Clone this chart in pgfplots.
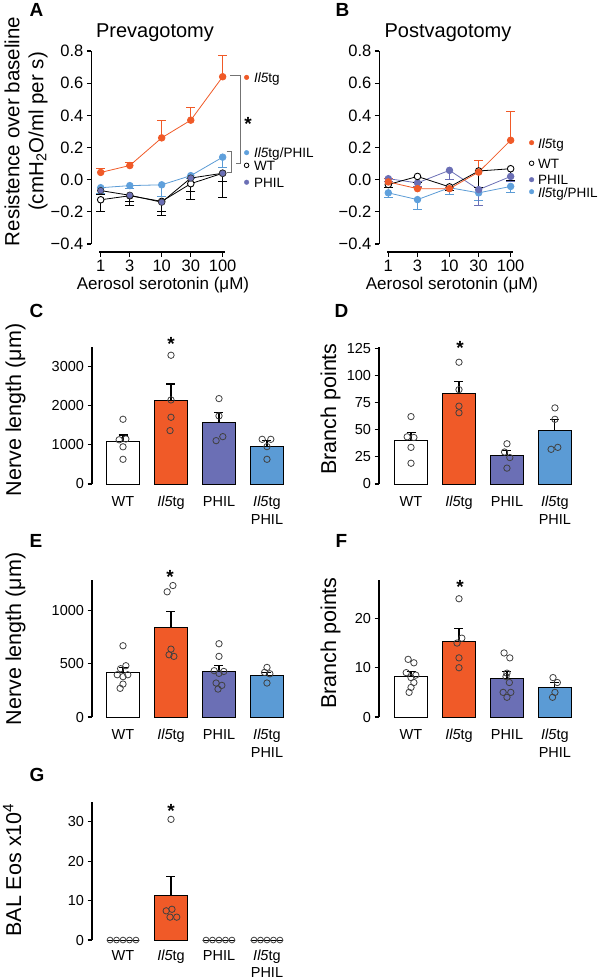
\documentclass[border=0pt]{standalone}
\usepackage{pgfplots}
\pgfplotsset{compat=1.18}
\usepackage{fontspec}
\setmainfont{Liberation Sans}
\definecolor{cOr}{HTML}{F05A28}
\definecolor{cPu}{HTML}{6B6FB5}
\definecolor{cBl}{HTML}{5B9BD5}
\definecolor{cBlD}{HTML}{5FA0DC}
\newcommand\fTick{\fontsize{14.5}{17.5}\selectfont}
\newcommand\fTickG{\fontsize{14.5}{16.5}\selectfont}
\newcommand\fTickA{\fontsize{16.5}{19}\selectfont}
\newcommand\fLeg{\fontsize{13.5}{16}\selectfont}
\newcommand\fLab{\fontsize{21.5}{24}\selectfont}
\newcommand\fLabA{\fontsize{20.5}{24}\selectfont}
\newcommand\fTitle{\fontsize{20}{24}\selectfont}
\newcommand\fLet{\fontsize{19}{22}\selectfont\bfseries}
\newcommand\fX{\fontsize{17}{20}\selectfont}
\newcommand\fStar{\fontsize{19}{22}\selectfont\bfseries}
\pgfplotsset{
 prism/.style={scale only axis, clip=false, axis y line*=left, axis x line*=bottom,
   tick align=outside, major tick length=4.5pt,
   every tick/.style={black, line width=1.1pt},
   axis line style={line width=1.2pt, -}},
 lineA/.style={prism, ymin=-0.4, ymax=0.8,
   xtick={1,3,10,30,100}, xticklabels={1,3,10,30,100}, xminorticks=false,
   ytick={-0.4,-0.2,0,0.2,0.4,0.6,0.8},
   yticklabels={−0.4,−0.2,0.0,0.2,0.4,0.6,0.8},
   tick label style={font=\fTickA}, axis x line shift=8pt, axis y line shift=8pt},
 barpanel/.style={prism, x axis line style={draw=none}, xtick style={draw=none},
   xtick={0,1,2,3}, xticklabels={WT,\textit{Il5}tg,PHIL,{\textit{Il5}tg\\PHIL}},
   xticklabel style={align=center, yshift=-4pt}, xmin=-0.646, xmax=3.48, ymin=0,
   tick label style={font=\fTick}, width=198pt, height=137pt},
 lp/.style={line width=0.8pt, mark=*, mark size=3.3pt},
 errM/.style={error bars/y dir=minus, error bars/y explicit,
   error bars/error bar style={line width=1pt, #1},
   error bars/error mark options={rotate=90, line width=1pt, mark size=4.5pt, #1}},
 errP/.style={error bars/y dir=plus, error bars/y explicit,
   error bars/error bar style={line width=1pt, #1},
   error bars/error mark options={rotate=90, line width=1pt, mark size=4.5pt, #1}},
 bar/.style={ybar, bar width=32.5pt, bar shift=0pt, draw=black, line width=0.9pt},
 barE/.style={bar, error bars/y dir=plus, error bars/y explicit,
   error bars/error bar style={line width=1.1pt, black},
   error bars/error mark options={rotate=90, line width=1.1pt, mark size=4.5pt, black}},
 pts/.style={only marks, mark=o, mark size=3.2pt, mark options={line width=0.8pt, draw=black!75}},
}
\begin{document}
\begin{tikzpicture}
% ---------- A ----------
\begin{axis}[xmode=log, log basis x=10, lineA, at={(99.3pt,-244pt)}, anchor=south west, width=125.4pt, height=193pt,
  xmin=0.948, xmax=108]
\addplot[lp, cBl, mark options={fill=cBlD, draw=cBlD}, errM=cBl] coordinates {
 (1,-0.05) +- (0,0.035) (3,-0.037) +- (0,0.015) (10,-0.032) +- (0,0.07)
 (30,0.025) +- (0,0.02) (100,0.14) +- (0,0.065)};
\addplot[lp, black, mark options={fill=white, draw=black, line width=0.9pt}, errM=black] coordinates {
 (1,-0.125) +- (0,0.075) (3,-0.1) +- (0,0.063) (10,-0.135) +- (0,0.09)
 (30,-0.025) +- (0,0.1) (100,0.04) +- (0,0.15)};
\addplot[lp, black, mark options={fill=cPu, draw=black!80, line width=0.6pt}, errM=black] coordinates {
 (1,-0.068) +- (0,0.025) (3,-0.097) +- (0,0.037) (10,-0.14) +- (0,0.055)
 (30,0.01) +- (0,0.085) (100,0.04) +- (0,0.05)};
\addplot[lp, cOr, mark options={fill=cOr, draw=cOr}, errP=cOr] coordinates {
 (1,0.045) +- (0,0.022) (3,0.088) +- (0,0.02) (10,0.26) +- (0,0.105)
 (30,0.37) +- (0,0.08) (100,0.64) +- (0,0.13)};
% legend markers
\addplot[only marks, mark=*, mark size=2.3pt, cOr] coordinates {(247,0.636)};
\addplot[only marks, mark=*, mark size=2.3pt, cBlD] coordinates {(247,0.168)};
\addplot[only marks, mark=*, mark size=2.3pt, black, mark options={fill=white, line width=0.8pt}] coordinates {(247,0.089)};
\addplot[only marks, mark=*, mark size=2.3pt, cPu] coordinates {(247,-0.016)};
\end{axis}
% ---------- B ----------
\begin{axis}[xmode=log, log basis x=10, lineA, at={(387.3pt,-244pt)}, anchor=south west, width=125.4pt, height=193pt,
  xmin=0.963, xmax=108]
\addplot[lp, cBl, mark options={fill=cBlD, draw=cBlD}, errM=cBl] coordinates {
 (1,-0.082) +- (0,0.03) (3,-0.124) +- (0,0.06) (10,-0.05) +- (0,0.045)
 (30,-0.082) +- (0,0.045) (100,-0.042) +- (0,0.04)};
\addplot[lp, cPu, mark options={fill=cPu, draw=cPu}, errM=cPu] coordinates {
 (1,0.006) +- (0,0.02) (3,-0.02) +- (0,0.02) (10,0.058) +- (0,0.06)
 (30,-0.062) +- (0,0.1) (100,0.02) +- (0,0.03)};
\addplot[lp, black, mark options={fill=white, draw=black, line width=0.9pt}, errM=black] coordinates {
 (1,-0.03) +- (0,0.02) (3,0.02) +- (0,0.04) (10,-0.045) +- (0,0.02)
 (30,0.054) +- (0,0.1) (100,0.068) +- (0,0.075)};
\addplot[lp, cOr, mark options={fill=cOr, draw=cOr}, errP=cOr] coordinates {
 (1,-0.014) +- (0,0.02) (3,-0.056) +- (0,0.01) (10,-0.056) +- (0,0.01)
 (30,0.047) +- (0,0.073) (100,0.245) +- (0,0.18)};
\addplot[only marks, mark=*, mark size=2.3pt, cOr] coordinates {(220,0.23)};
\addplot[only marks, mark=*, mark size=2.3pt, black, mark options={fill=white, line width=0.8pt}] coordinates {(220,0.102)};
\addplot[only marks, mark=*, mark size=2.3pt, cPu] coordinates {(220,0.0)};
\addplot[only marks, mark=*, mark size=2.3pt, cBlD] coordinates {(220,-0.075)};
\end{axis}
% ---------- C ----------
\begin{axis}[barpanel, at={(92pt,-484pt)}, anchor=south west, ymax=3500,
  ytick={0,1000,2000,3000}, yticklabels={0,1000,2000,3000}]
\addplot[barE, fill=white] coordinates {(0,1083) +- (0,170)};
\addplot[barE, fill=cOr] coordinates {(1,2131) +- (0,425)};
\addplot[barE, fill=cPu] coordinates {(2,1560) +- (0,265)};
\addplot[barE, fill=cBl] coordinates {(3,963) +- (0,145)};
\addplot[pts] coordinates {(0,1654) (-0.08,1130) (0.06,1150) (0,950) (0,631)
 (1,3290) (1,2148) (1,1705) (0.98,1364)
 (2,2182) (2,1739) (2.08,1210) (1.94,1108)
 (2.9,1142) (3.08,1142) (3,955) (3,631)};
\end{axis}
% ---------- D ----------
\begin{axis}[barpanel, at={(379pt,-484pt)}, anchor=south west, ymax=126,
  xmin=-0.667, xmax=3.46,
  ytick={0,25,50,75,100,125}, yticklabels={0,25,50,75,100,125}]
\addplot[barE, fill=white] coordinates {(0,39.7) +- (0,7.3)};
\addplot[barE, fill=cOr] coordinates {(1,83.7) +- (0,10.7)};
\addplot[barE, fill=cPu] coordinates {(2,26.7) +- (0,4.3)};
\addplot[barE, fill=cBl] coordinates {(3,48.8) +- (0,10.4)};
\addplot[pts] coordinates {(0,62) (-0.08,43.4) (0.06,42.8) (0,33.7) (0,19.1)
 (1,112) (1,86.8) (1,71.6) (1,65.5)
 (2,37) (1.95,29.4) (2.06,24.3) (2,14.6)
 (3,70) (3,59.5) (2.92,31.9) (3.06,33.7)};
\end{axis}
% ---------- E ----------
\begin{axis}[barpanel, at={(92pt,-717pt)}, anchor=south west, ymax=1290,
  ytick={0,500,1000}, yticklabels={0,500,1000}]
\addplot[barE, fill=white] coordinates {(0,420) +- (0,50)};
\addplot[barE, fill=cOr] coordinates {(1,840) +- (0,154)};
\addplot[barE, fill=cPu] coordinates {(2,426) +- (0,57)};
\addplot[barE, fill=cBl] coordinates {(3,395) +- (0,25)};
\addplot[pts] coordinates {(0,671) (0.06,483) (-0.05,455) (-0.12,398) (0.1,398) (0,380) (0,310) (-0.06,270)
 (0.92,1179) (1.04,1238) (1,639) (0.96,586) (1.06,571)
 (2,690) (2,571) (1.9,436) (2.1,429) (2,411) (1.94,320) (2.06,298) (1.98,263)
 (3,467) (2.95,420) (3.06,407) (3,320)};
\end{axis}
% ---------- F ----------
\begin{axis}[barpanel, at={(379pt,-717pt)}, anchor=south west, ymax=27.8,
  xmin=-0.667, xmax=3.46,
  ytick={0,10,20}, yticklabels={0,10,20}]
\addplot[barE, fill=white] coordinates {(0,8.24) +- (0,1.0)};
\addplot[barE, fill=cOr] coordinates {(1,15.4) +- (0,2.5)};
\addplot[barE, fill=cPu] coordinates {(2,7.9) +- (0,1.35)};
\addplot[barE, fill=cBl] coordinates {(3,6.0) +- (0,1.0)};
\addplot[pts] coordinates {(-0.06,11.7) (0.06,11) (-0.1,9) (0.1,8.5) (0,8) (0.06,7) (0,6) (-0.04,5)
 (1,24) (1.06,16) (0.96,15) (1,12) (1,10)
 (1.94,13) (2.06,12) (2,8.9) (1.98,8.2) (2.05,7) (1.92,5) (2.08,5) (2,4)
 (2.96,8) (3.05,7) (3,5) (2.95,4)};
\end{axis}
% ---------- G ----------
\begin{axis}[barpanel, at={(92pt,-940pt)}, anchor=south west, ymax=35, height=138pt,
  ytick={0,10,20,30}, yticklabels={0,10,20,30},
  xticklabel style={yshift=2pt, font=\fTickG}]
\addplot[bar, fill=white] coordinates {(0,0)};
\addplot[barE, fill=cOr] coordinates {(1,11.4) +- (0,4.8)};
\addplot[bar, fill=cPu] coordinates {(2,0)};
\addplot[bar, fill=cBl] coordinates {(3,0)};
\addplot[pts, mark size=2.9pt] coordinates {(-0.27,0) (-0.135,0) (0,0) (0.135,0) (0.27,0)
 (1.73,0) (1.865,0) (2,0) (2.135,0) (2.27,0)
 (2.73,0) (2.865,0) (3,0) (3.135,0) (3.27,0)};
\addplot[pts] coordinates {(1,30.6) (0.9,7.4) (1.02,7.8) (0.98,5.8) (1.12,5.8)};
\end{axis}
% ---------- text ----------
\node[font=\fLet, anchor=base west] at (26pt,-17pt) {A};
\node[font=\fLet, anchor=base west] at (332pt,-17pt) {B};
\node[font=\fLet, anchor=base west] at (26pt,-317pt) {C};
\node[font=\fLet, anchor=base west] at (331pt,-317pt) {D};
\node[font=\fLet, anchor=base west] at (26pt,-547pt) {E};
\node[font=\fLet, anchor=base west] at (332pt,-547pt) {F};
\node[font=\fLet, anchor=base west] at (26pt,-781pt) {G};
\node[font=\fTitle, anchor=base] at (155pt,-37.5pt) {Prevagotomy};
\node[font=\fTitle, anchor=base] at (448pt,-37.5pt) {Postvagotomy};
\node[font=\fLabA, rotate=90, align=center] at (26pt,-131.5pt) {Resistence over baseline\\(cmH\textsubscript{2}O/ml per s)};
\node[font=\fX, anchor=base] at (163pt,-289pt) {Aerosol serotonin (μM)};
\node[font=\fX, anchor=base] at (452pt,-289pt) {Aerosol serotonin (μM)};
\node[font=\fLab, rotate=90, anchor=base] at (21pt,-410pt) {Nerve length (μm)};
\node[font=\fLab, rotate=90, anchor=base] at (336pt,-409pt) {Branch points};
\node[font=\fLab, rotate=90, anchor=base] at (21pt,-639pt) {Nerve length (μm)};
\node[font=\fLab, rotate=90, anchor=base] at (336pt,-643pt) {Branch points};
\node[font=\fLab, rotate=90, anchor=base] at (21pt,-870pt) {BAL Eos x10\textsuperscript{4}};
\node[font=\fStar, anchor=base] at (248pt,-131pt) {*};
\node[font=\fStar, anchor=base] at (171pt,-350pt) {*};
\node[font=\fStar, anchor=base] at (460pt,-354pt) {*};
\node[font=\fStar, anchor=base] at (170pt,-583pt) {*};
\node[font=\fStar, anchor=base] at (460pt,-593pt) {*};
\node[font=\fStar, anchor=base] at (171pt,-817pt) {*};
% legends
\node[font=\fLeg, anchor=base west, inner sep=0pt] at (254pt,-82.5pt) {\textit{Il5}tg};
\node[font=\fLeg, anchor=base west, inner sep=0pt] at (254pt,-157.5pt) {\textit{Il5}tg/PHIL};
\node[font=\fLeg, anchor=base west, inner sep=0pt] at (254pt,-170pt) {WT};
\node[font=\fLeg, anchor=base west, inner sep=0pt] at (254pt,-187pt) {PHIL};
\node[font=\fLeg, anchor=base west, inner sep=0pt] at (538pt,-148pt) {\textit{Il5}tg};
\node[font=\fLeg, anchor=base west, inner sep=0pt] at (538pt,-168.5pt) {WT};
\node[font=\fLeg, anchor=base west, inner sep=0pt] at (538pt,-184.5pt) {PHIL};
\node[font=\fLeg, anchor=base west, inner sep=0pt] at (538pt,-197pt) {\textit{Il5}tg/PHIL};
% brackets
\draw[black!55, line width=0.9pt] (230pt,-75pt) -- (240pt,-75pt) -- (240pt,-163pt) -- (235.5pt,-163pt);
\draw[black!55, line width=0.9pt] (226.5pt,-151pt) -- (231.5pt,-151pt) -- (231.5pt,-172pt) -- (226.5pt,-172pt);
\pgfresetboundingbox
\path[use as bounding box] (0pt,0pt) rectangle (600pt,-979pt);
\end{tikzpicture}
\end{document}
